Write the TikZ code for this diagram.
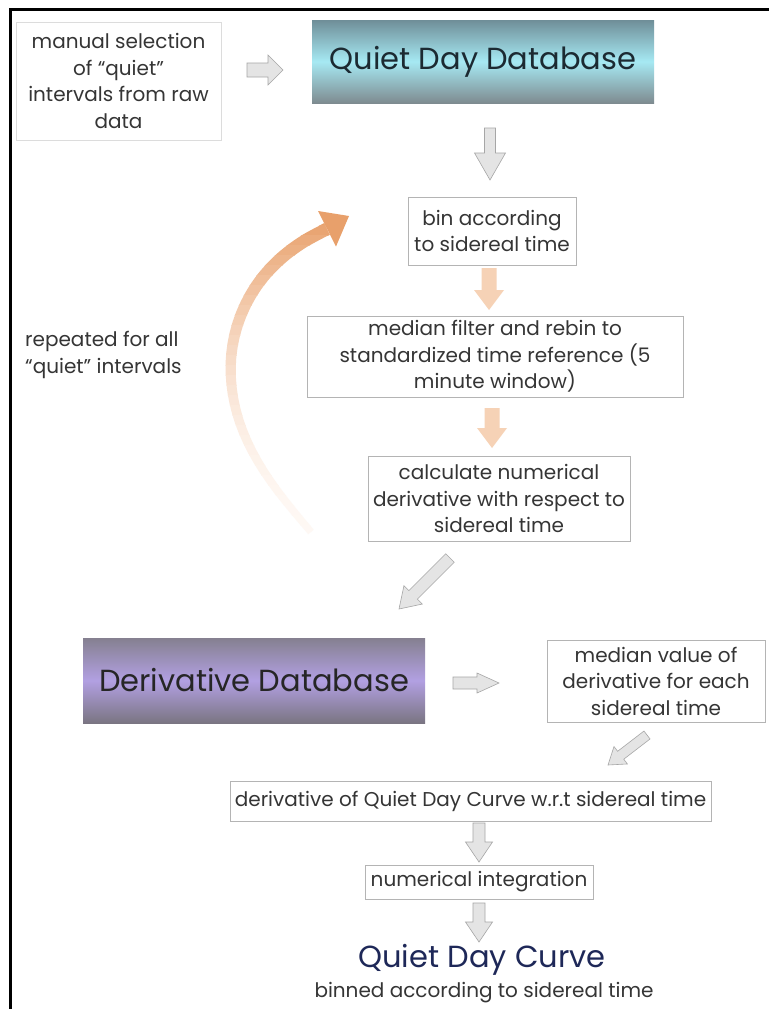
\documentclass[tikz,border=0pt]{standalone}
\usepackage{fontspec}
\setmainfont{Poppins}
\usetikzlibrary{calc}
\definecolor{txt}{HTML}{353535}
\definecolor{boxline}{HTML}{B4B4B4}
\definecolor{boxlight}{HTML}{DCDCDC}
\definecolor{arrfill}{HTML}{E4E4E4}
\definecolor{arrline}{HTML}{A6A6A6}
\definecolor{peach}{HTML}{F6D2B6}
\definecolor{orangeA}{HTML}{E8A06B}
\definecolor{orangeB}{HTML}{FFFBF8}
\definecolor{tealtop}{HTML}{6F8E98}
\definecolor{tealmid}{HTML}{A6E9F3}
\definecolor{tealbot}{HTML}{7E8B90}
\definecolor{purtop}{HTML}{858090}
\definecolor{purmid}{HTML}{B2A0E2}
\definecolor{purbot}{HTML}{7A7582}
\definecolor{navy}{HTML}{1E2858}
\definecolor{bigtxt}{HTML}{1C2A32}
\makeatletter
\newcommand{\blockarr}[6]{% #1 style, #2 from, #3 to, #4 shaft half, #5 head half, #6 head length
  \pgfpointdiff{\pgfpointanchor{#2}{center}}{\pgfpointanchor{#3}{center}}%
  \edef\bax{\the\pgf@x}\edef\bay{\the\pgf@y}%
  \pgfmathsetmacro\baang{atan2(\bay,\bax)}%
  \pgfmathsetmacro\balen{veclen(\bax,\bay)}%
  \pgfmathsetmacro\bahb{\balen-#6}%
  \begin{scope}[shift={(#2)}, rotate=\baang]
    \draw[#1] (0,#4) -- (\bahb,#4) -- (\bahb,#5) -- (\balen,0) -- (\bahb,-#5) -- (\bahb,-#4) -- (0,-#4) -- cycle;
  \end{scope}}
\makeatother
\begin{document}
\begin{tikzpicture}[x=1pt,y=-1pt,
  body/.style={font=\fontsize{20}{26.5}\selectfont, text=txt},
  box/.style={body, draw=boxline, line width=0.8pt, align=center, inner sep=0pt},
  bigtext/.style={font=\fontsize{30.5}{34}\selectfont},
  garrow/.style={fill=arrfill, draw=arrline, line width=0.6pt},
  parrow/.style={fill=peach, draw=none}]
\useasboundingbox (0,0) rectangle (769,1009);
\fill[white] (0,0) rectangle (769,1009);
% frame
\draw[line width=3pt] (10,1009) -- (10,9) -- (769,9);

% boxes
\node[box, draw=boxlight, minimum width=205pt, minimum height=118pt] (manual) at (118.5,81)
  {manual selection\\of “quiet”\\intervals from raw\\data};
\shade[top color=tealtop, bottom color=tealbot, middle color=tealmid] (312,20) rectangle (654,103);
\node[bigtext, text=bigtxt, minimum width=342pt, minimum height=83pt, inner sep=0pt] (qdd) at (483,61.5) {Quiet Day Database};
\node[box, minimum width=168pt, minimum height=68pt] (bin) at (492,231) {bin according\\to sidereal time};
\node[box, minimum width=376pt, minimum height=81pt] (median) at (495,356.5)
  {median filter and rebin to\\standardized time reference (5\\minute window)};
\node[box, minimum width=262pt, minimum height=85pt] (calc) at (499,498.5)
  {calculate numerical\\derivative with respect to\\sidereal time};
\shade[top color=purtop, bottom color=purbot, middle color=purmid] (83,638) rectangle (425,723);
\node[bigtext, text=black!85, minimum width=342pt, minimum height=85pt, inner sep=0pt] (dd) at (254,680.5) {Derivative Database};
\node[box, minimum width=218pt, minimum height=82pt] (medval) at (656,681)
  {median value of\\derivative for each\\sidereal time};
\node[box, minimum width=481pt, minimum height=40pt] (deriv) at (470.5,801)
  {derivative of Quiet Day Curve w.r.t sidereal time};
\node[box, minimum width=228pt, minimum height=34pt] (integ) at (479,882) {numerical integration};
\node[bigtext, text=navy, inner sep=0pt] (qdc) at (482,960) {Quiet Day Curve};
\node[body, inner sep=0pt] (binned) at (484,993) {binned according to sidereal time};
\node[body, align=left, anchor=west, inner sep=0pt] (rep) at (25,355) {repeated for all\\“quiet” intervals};

% block arrows
\coordinate (a1s) at (247,70);  \coordinate (a1e) at (283,70);
\blockarr{garrow}{a1s}{a1e}{7}{15}{15}
\coordinate (a2s) at (490,128); \coordinate (a2e) at (490,180);
\blockarr{garrow}{a2s}{a2e}{5.5}{15.5}{27}
\coordinate (a3s) at (489,268); \coordinate (a3e) at (489,310);
\blockarr{parrow}{a3s}{a3e}{7.5}{15}{20}
\coordinate (a4s) at (492,408); \coordinate (a4e) at (492,448);
\blockarr{parrow}{a4s}{a4e}{7.5}{15}{20}
\coordinate (a5s) at (450,558); \coordinate (a5e) at (399,609);
\blockarr{garrow}{a5s}{a5e}{6}{13}{20}
\coordinate (a6s) at (453,683); \coordinate (a6e) at (499,683);
\blockarr{garrow}{a6s}{a6e}{6}{10}{22}
\coordinate (a7s) at (647,735); \coordinate (a7e) at (608,765);
\blockarr{garrow}{a7s}{a7e}{5}{11}{16}
\coordinate (a8s) at (479,823); \coordinate (a8e) at (479,862);
\blockarr{garrow}{a8s}{a8e}{6}{13.5}{20}
\coordinate (a9s) at (479,903); \coordinate (a9e) at (479,942);
\blockarr{garrow}{a9s}{a9e}{6}{13.5}{20}

% curved repeat arrow: colour fades towards its tail (drawn band by band)
\foreach \k [evaluate=\k as \ya using 205+10*\k,
             evaluate=\k as \yb using 215.6+10*\k,
             evaluate=\k as \s using {min(1,(330-10*\k)/320)},
             evaluate=\k as \pct using 3+97*\s*\s,
             evaluate=\k as \w using 7+6*\s] in {0,...,33}{
  \begin{scope}
    \clip (190,\ya) rectangle (370,\yb);
    \draw[line width=\w pt, color=orangeA!\pct!orangeB]
      plot[smooth, tension=0.6] coordinates {(311,532) (292.9,510.4) (275.5,488.2) (259.8,464.9)
        (246.6,440) (236.9,413.5) (231.6,385.9) (231.1,357.7) (236,329.9) (246.1,303.6)
        (261,279.7) (280.2,259.1) (302.7,242.2) (327,229)};
  \end{scope}
}
\coordinate (headtip) at (349,216);
\fill[orangeA] (318,211) -- (headtip) -- (336,246.5) -- cycle;
\end{tikzpicture}
\end{document}
